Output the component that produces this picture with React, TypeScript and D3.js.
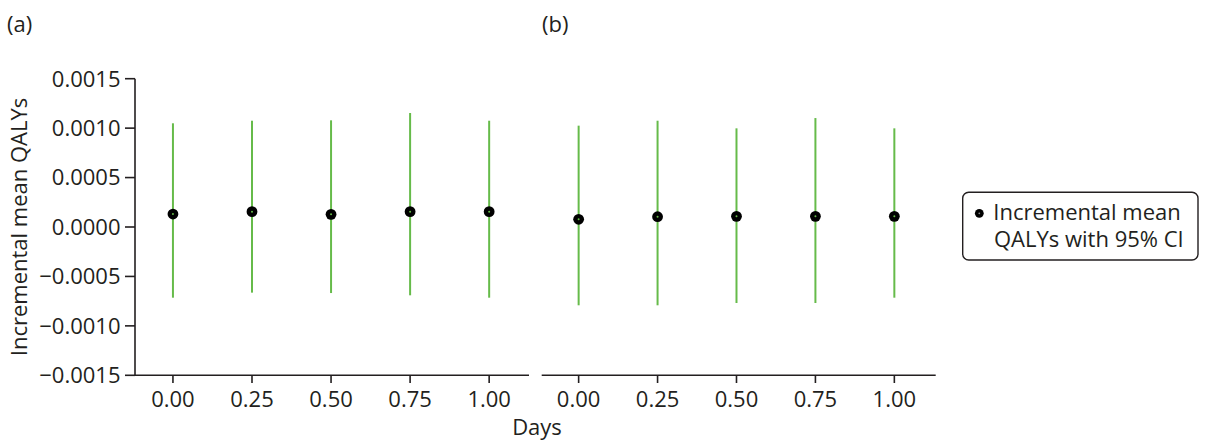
import React from "react";
import * as d3 from "d3";

const days = [0, 0.25, 0.5, 0.75, 1.0];
const dayTickLabels = ["0.00", "0.25", "0.50", "0.75", "1.00"];
const yTicks = [-0.0015, -0.001, -0.0005, 0, 0.0005, 0.001, 0.0015];
const yTickLabels = ["\u22120.0015", "\u22120.0010", "\u22120.0005", "0.0000", "0.0005", "0.0010", "0.0015"];

const meanA = [0.000131, 0.000155, 0.000128, 0.000155, 0.000155];
const lowerA = [-0.000715, -0.000664, -0.000668, -0.000691, -0.000715];
const upperA = [0.001049, 0.001075, 0.001079, 0.001153, 0.001075];

const meanB = [0.000078, 0.000104, 0.000108, 0.000108, 0.000108];
const lowerB = [-0.000792, -0.000792, -0.000769, -0.000769, -0.000715];
const upperB = [0.001025, 0.001075, 0.000998, 0.001102, 0.000998];

const panelLabels = ["(a)", "(b)"];
const yTitle = "Incremental mean QALYs";
const xTitle = "Days";
const legendLines = ["Incremental mean", "QALYs with 95% CI"];

const INK = "#231f20";
const GREEN = "#66bb4a";
const FONT = "'Open Sans', 'Noto Sans', sans-serif";
const FS = 22;

export default function App() {
  const y = d3.scaleLinear().domain([-0.0015, 0.0015]).range([375.3, 78.7]);
  const xA = d3.scaleLinear().domain([-0.12, 1.126]).range([135, 529]);
  const xB = d3.scaleLinear().domain([-0.117, 1.131]).range([541.7, 935.7]);

  const panels = [
    { x: xA, mean: meanA, lo: lowerA, hi: upperA, label: panelLabels[0], lx: 7 },
    { x: xB, mean: meanB, lo: lowerB, hi: upperB, label: panelLabels[1], lx: 542 },
  ];

  return (
    <svg width={1206} height={442} style={{ position: "absolute", left: 0, top: 0, background: "#fff" }}
      fontFamily={FONT} fill={INK}>
      <line x1={135} x2={135} y1={y(0.0015)} y2={y(-0.0015)} stroke={INK} strokeWidth={1.6} />
      {yTicks.map((t, i) => (
        <g key={"yt" + i}>
          <line x1={125} x2={135} y1={y(t)} y2={y(t)} stroke={INK} strokeWidth={1.6} />
          <text x={120.5} y={y(t)} dy="0.36em" textAnchor="end" fontSize={FS}>{yTickLabels[i]}</text>
        </g>
      ))}
      <text transform={`translate(26.5,${y(0)}) rotate(-90)`} textAnchor="middle" fontSize={FS}>{yTitle}</text>

      {panels.map((p, pi) => {
        const [r0, r1] = p.x.range();
        return (
          <g key={"p" + pi}>
            <text x={p.lx} y={32} fontSize={FS}>{p.label}</text>
            <line x1={r0} x2={r1} y1={375.3} y2={375.3} stroke={INK} strokeWidth={1.6} />
            {days.map((d, i) => (
              <g key={"xt" + i}>
                <line x1={p.x(d)} x2={p.x(d)} y1={375.3} y2={383} stroke={INK} strokeWidth={1.6} />
                <text x={p.x(d)} y={407} textAnchor="middle" fontSize={FS}>{dayTickLabels[i]}</text>
              </g>
            ))}
            {days.map((d, i) => (
              <line key={"ci" + i} x1={p.x(d)} x2={p.x(d)} y1={y(p.hi[i])} y2={y(p.lo[i])}
                stroke={GREEN} strokeWidth={2} />
            ))}
            {days.map((d, i) => (
              <g key={"m" + i}>
                <circle cx={p.x(d)} cy={y(p.mean[i])} r={5.4} fill="#000" />
                <circle cx={p.x(d)} cy={y(p.mean[i])} r={1} fill={GREEN} />
              </g>
            ))}
          </g>
        );
      })}

      <text x={537} y={435} textAnchor="middle" fontSize={FS}>{xTitle}</text>

      <rect x={962.7} y={192.3} width={235.3} height={67.7} rx={6} ry={6} fill="#fff" stroke={INK} strokeWidth={1.4} />
      <circle cx={979.3} cy={213.3} r={4.4} fill="#000" />
      <circle cx={979.3} cy={213.3} r={0.9} fill="#888" />
      <text x={993.3} y={220} fontSize={FS}>{legendLines[0]}</text>
      <text x={994} y={247} fontSize={FS}>{legendLines[1]}</text>
    </svg>
  );
}
